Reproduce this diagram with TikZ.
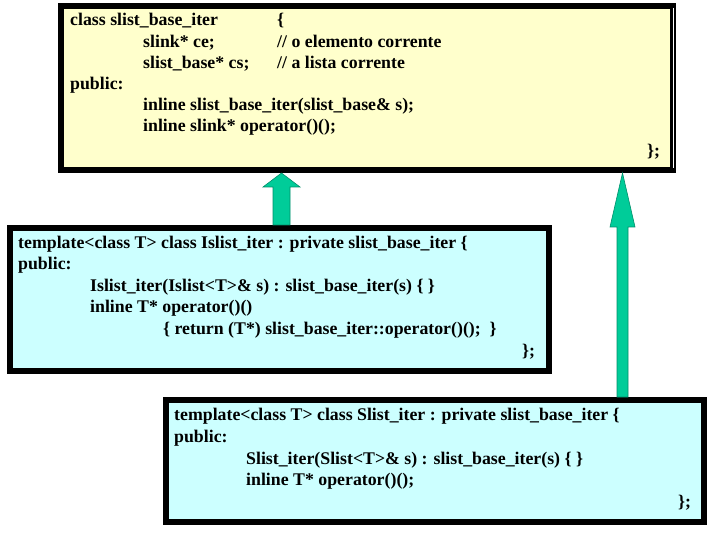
\documentclass[tikz,border=0pt]{standalone}
\usepackage{fontspec}
\setmainfont{Liberation Serif}[BoldFont={Liberation Serif Bold}]
\usetikzlibrary{calc}
\definecolor{ybg}{RGB}{255,255,204}
\definecolor{cbg}{RGB}{204,255,255}
\definecolor{arr}{RGB}{0,204,153}
\begin{document}
\begin{tikzpicture}[x=1pt,y=-1pt,
  box/.style={draw=black,line width=6pt,inner sep=0pt},
  code/.style={anchor=base west,inner sep=0pt,font=\fontsize{17.8}{21}\selectfont\bfseries},
  arrowshape/.style={fill=arr,draw=arr!70!black,line width=0.6pt,line join=miter}]
\useasboundingbox[fill=white] (0,0) rectangle (720,540);
% boxes
\node[box,fill=ybg,minimum width=612pt,minimum height=164pt] (base) at (367,88) {};
\draw[white,line width=0.9pt] ([xshift=-2.6pt,yshift=-5pt]base.north east) -- ([xshift=-2.6pt,yshift=5pt]base.south east);
\node[box,fill=cbg,minimum width=539pt,minimum height=143pt] (islist) at (279.5,299.5) {};
\node[box,fill=cbg,minimum width=538pt,minimum height=122pt] (slist) at (435,461) {};
% arrow columns
\coordinate (c1) at (281.5,0);
\coordinate (c2) at (622.5,0);
% fat arrow Islist -> base
\draw[arrowshape] ([xshift=-8.5pt]islist.north -| c1) -- ([xshift=-8.5pt,yshift=-14pt]base.south -| c1)
  -- ([xshift=-18.5pt,yshift=-14pt]base.south -| c1) -- (base.south -| c1)
  -- ([xshift=18.5pt,yshift=-14pt]base.south -| c1) -- ([xshift=8.5pt,yshift=-14pt]base.south -| c1)
  -- ([xshift=8.5pt]islist.north -| c1) -- cycle;
% thin arrow Slist -> base
\draw[arrowshape] ([xshift=-5.5pt]slist.north -| c2) -- ([xshift=-5.5pt,yshift=-54pt]base.south -| c2)
  -- ([xshift=-12.5pt,yshift=-54pt]base.south -| c2) -- (base.south -| c2)
  -- ([xshift=12.5pt,yshift=-54pt]base.south -| c2) -- ([xshift=5.5pt,yshift=-54pt]base.south -| c2)
  -- ([xshift=5.5pt]slist.north -| c2) -- cycle;
% top box text
\node[code] (b1) at (70,26) {class slist\_base\_iter};
\node[code] (b1r) at (277,26) {\{};
\node[code] (b2) at (143,48) {slink* ce;};
\node[code] (b2r) at (277,48) {// o elemento corrente};
\node[code] (b3) at (143,69) {slist\_base* cs;};
\node[code] (b3r) at (277,69) {// a lista corrente};
\node[code] (b4) at (70,90) {public:};
\node[code] (b5) at (143,111) {inline slist\_base\_iter(slist\_base\& s);};
\node[code] (b6) at (143,132) {inline slink* operator()();};
\node[code] (b7) at (647,157) {\};};
% Islist text
\node[code] (i1) at (18,248) {template<class T> class Islist\_iter : private slist\_base\_iter \{};
\node[code] (i2) at (18,269) {public:};
\node[code] (i3) at (90,291) {Islist\_iter(Islist<T>\& s) : slist\_base\_iter(s) \{ \}};
\node[code] (i4) at (90,312) {inline T* operator()()};
\node[code] (i5) at (163,334) {\{ return (T*) slist\_base\_iter::operator()();\ \ \}};
\node[code] (i6) at (522,356) {\};};
% Slist text
\node[code] (s1) at (174,420) {template<class T> class Slist\_iter : private slist\_base\_iter \{};
\node[code] (s2) at (174,442) {public:};
\node[code] (s3) at (246,464) {Slist\_iter(Slist<T>\& s) : slist\_base\_iter(s) \{ \}};
\node[code] (s4) at (246,485) {inline T* operator()();};
\node[code] (s5) at (678,507) {\};};
\end{tikzpicture}
\end{document}
